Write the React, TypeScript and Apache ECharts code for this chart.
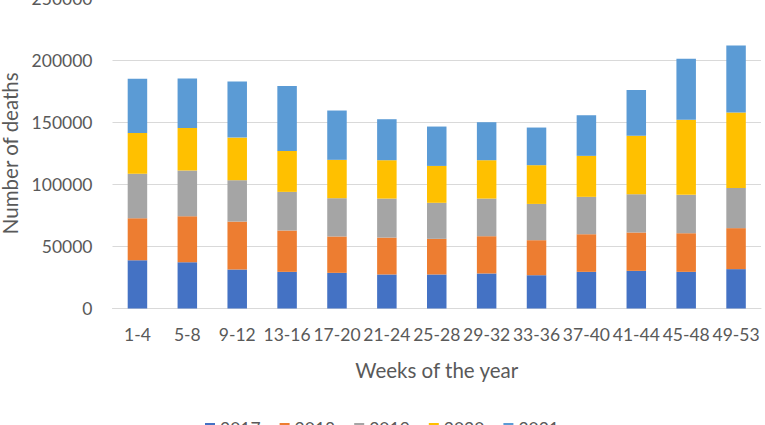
import React, { useEffect, useRef } from "react";
import * as echarts from "echarts";

const categories = ["1-4", "5-8", "9-12", "13-16", "17-20", "21-24", "25-28", "29-32", "33-36", "37-40", "41-44", "45-48", "49-53"];
const years = ["2017", "2018", "2019", "2020", "2021"];
const v2017 = [38900, 37300, 31400, 29500, 28700, 27400, 27400, 28200, 26800, 29500, 30300, 29500, 31700];
const v2018 = [33800, 37000, 38600, 33300, 29300, 29700, 28700, 30000, 28200, 30300, 30900, 31100, 33000];
const v2019 = [35700, 36800, 33300, 31100, 30800, 31400, 29000, 30300, 29200, 30100, 30800, 30900, 32400];
const v2020 = [33000, 34300, 34300, 33000, 30900, 30900, 29700, 30900, 31200, 33000, 47000, 60400, 60700];
const v2021 = [43500, 39700, 45100, 52300, 39700, 33000, 31700, 30600, 30300, 32700, 37000, 49100, 53900];
const colors = ["#4472C4", "#ED7D31", "#A5A5A5", "#FFC000", "#5B9BD5"];

const FONT = "Lato";

export default function App() {
  const ref = useRef<HTMLDivElement>(null);
  useEffect(() => {
    if (!ref.current) return;
    const chart = echarts.init(ref.current, null, { renderer: "svg" });
    const all = [v2017, v2018, v2019, v2020, v2021];
    chart.setOption({
      animation: false,
      color: colors,
      textStyle: { fontFamily: FONT },
      grid: {
        left: 112.5,
        right: 4,
        top: -2,
        bottom: 116.5,
        containLabel: false,
        outerBoundsMode: "none",
      },
      legend: {
        data: years,
        left: 200,
        top: 414,
        itemWidth: 10,
        itemHeight: 10,
        itemGap: 19,
        icon: "rect",
        textStyle: { fontFamily: FONT, fontSize: 17.5, color: "#595959" },
      },
      xAxis: {
        type: "category",
        data: categories,
        axisLine: { lineStyle: { color: "#D9D9D9", width: 1 } },
        axisTick: { show: false },
        axisLabel: { color: "#595959", fontSize: 17.5, fontFamily: FONT, margin: 17, interval: 0, hideOverlap: false },
        name: "Weeks of the year",
        nameLocation: "middle",
        nameGap: 51,
        nameTextStyle: { color: "#595959", fontSize: 20.5, fontFamily: FONT },
      },
      yAxis: {
        type: "value",
        min: 0,
        max: 250000,
        interval: 50000,
        axisLine: { show: false },
        axisTick: { show: false },
        splitLine: { lineStyle: { color: "#D9D9D9", width: 1 } },
        axisLabel: {
          color: "#595959",
          fontSize: 17.5,
          fontFamily: FONT,
          margin: 20,
          formatter: (v: number) => String(v),
        },
        name: "Number of deaths",
        nameLocation: "middle",
        nameGap: 88,
        nameTextStyle: { color: "#595959", fontSize: 20.5, fontFamily: FONT },
      },
      series: years.map((y, i) => ({
        name: y,
        type: "bar",
        stack: "total",
        data: all[i],
        barWidth: 19.5,
        itemStyle: { color: colors[i] },
      })),
    });
    return () => chart.dispose();
  }, []);
  return <div ref={ref} style={{ width: 765, height: 425, position: "absolute", left: 0, top: 0 }} />;
}
